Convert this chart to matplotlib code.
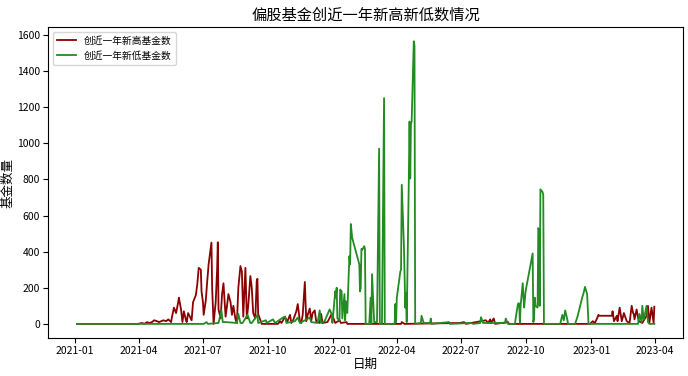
import matplotlib
matplotlib.use("Agg")
import matplotlib.pyplot as plt
import matplotlib.dates as mdates
import pandas as pd

plt.rcParams['font.family'] = ['Noto Sans CJK SC', 'DejaVu Sans']

title = "偏股基金创近一年新高新低数情况"
xlabel = "日期"
ylabel = "基金数量"
label_high = "创近一年新高基金数"
label_low = "创近一年新低基金数"

# (date, count) for funds hitting 1-year highs
high_points = [
    ("2021-01-04", 0), ("2021-03-31", 0), ("2021-04-06", 5), ("2021-04-09", 0),
    ("2021-04-13", 10), ("2021-04-16", 5), ("2021-04-20", 10), ("2021-04-23", 20),
    ("2021-04-27", 15), ("2021-04-30", 10), ("2021-05-06", 20), ("2021-05-10", 15),
    ("2021-05-13", 25), ("2021-05-17", 10), ("2021-05-18", 35), ("2021-05-21", 90),
    ("2021-05-24", 60), ("2021-05-27", 120), ("2021-05-28", 145), ("2021-05-31", 80),
    ("2021-06-02", 10), ("2021-06-04", 70), ("2021-06-07", 20), ("2021-06-08", 10),
    ("2021-06-10", 60), ("2021-06-15", 20), ("2021-06-17", 120), ("2021-06-21", 160),
    ("2021-06-23", 220), ("2021-06-25", 310), ("2021-06-28", 300), ("2021-06-29", 180),
    ("2021-07-01", 120), ("2021-07-02", 50), ("2021-07-05", 130), ("2021-07-07", 235),
    ("2021-07-09", 330), ("2021-07-13", 450), ("2021-07-14", 200), ("2021-07-16", 0),
    ("2021-07-19", 120), ("2021-07-21", 300), ("2021-07-22", 452), ("2021-07-23", 80),
    ("2021-07-26", 30), ("2021-07-27", 100), ("2021-07-28", 165), ("2021-07-30", 225),
    ("2021-08-02", 40), ("2021-08-04", 100), ("2021-08-06", 165), ("2021-08-09", 120),
    ("2021-08-11", 50), ("2021-08-13", 100), ("2021-08-16", 25), ("2021-08-18", 5),
    ("2021-08-20", 200), ("2021-08-23", 320), ("2021-08-25", 290), ("2021-08-27", 40),
    ("2021-08-30", 310), ("2021-09-01", 30), ("2021-09-03", 100), ("2021-09-06", 265),
    ("2021-09-08", 200), ("2021-09-10", 60), ("2021-09-13", 30), ("2021-09-15", 237),
    ("2021-09-16", 250), ("2021-09-17", 55), ("2021-09-22", 0), ("2021-10-15", 0),
    ("2021-10-18", 15), ("2021-10-20", 5), ("2021-10-25", 40), ("2021-10-28", 10),
    ("2021-11-01", 50), ("2021-11-03", 5), ("2021-11-05", 15), ("2021-11-10", 70),
    ("2021-11-12", 110), ("2021-11-15", 15), ("2021-11-17", 5), ("2021-11-19", 50),
    ("2021-11-22", 232), ("2021-11-24", 15), ("2021-11-26", 50), ("2021-11-29", 85),
    ("2021-12-01", 15), ("2021-12-03", 60), ("2021-12-06", 75), ("2021-12-08", 15),
    ("2021-12-13", 5), ("2021-12-15", 55), ("2021-12-17", 5), ("2021-12-24", 10),
    ("2021-12-30", 55), ("2022-01-04", 5), ("2022-01-10", 20), ("2022-01-12", 5),
    ("2022-01-20", 10), ("2022-01-21", 0), ("2022-04-07", 0), ("2022-04-08", 10),
    ("2022-04-12", 0), ("2022-06-29", 5), ("2022-07-05", 10), ("2022-07-08", 0),
    ("2022-08-05", 20), ("2022-08-08", 5), ("2022-08-11", 25), ("2022-08-12", 5),
    ("2022-08-16", 30), ("2022-08-18", 0), ("2022-09-05", 10), ("2022-09-07", 0),
    ("2022-12-30", 0), ("2023-01-03", 15), ("2023-01-06", 5), ("2023-01-09", 30),
    ("2023-01-11", 50), ("2023-01-12", 45), ("2023-01-30", 45), ("2023-01-31", 70),
    ("2023-02-02", 15), ("2023-02-06", 45), ("2023-02-07", 15), ("2023-02-10", 90),
    ("2023-02-13", 15), ("2023-02-16", 60), ("2023-02-20", 15), ("2023-02-24", 5),
    ("2023-02-27", 100), ("2023-03-01", 60), ("2023-03-02", 55), ("2023-03-03", 25),
    ("2023-03-06", 80), ("2023-03-09", 15), ("2023-03-14", 5), ("2023-03-20", 45),
    ("2023-03-22", 100), ("2023-03-24", 5), ("2023-03-27", 90), ("2023-03-30", 5),
    ("2023-03-31", 95),
]

# (date, count) for funds hitting 1-year lows
low_points = [
    ("2021-01-04", 0), ("2021-07-02", 0), ("2021-07-06", 10), ("2021-07-08", 0),
    ("2021-07-23", 5), ("2021-07-27", 75), ("2021-07-29", 10), ("2021-08-02", 10),
    ("2021-08-18", 5), ("2021-08-20", 55), ("2021-08-23", 5), ("2021-08-26", 5),
    ("2021-09-02", 50), ("2021-09-06", 5), ("2021-09-08", 5), ("2021-09-16", 50),
    ("2021-09-17", 5), ("2021-09-28", 20), ("2021-09-29", 5), ("2021-10-08", 25),
    ("2021-10-11", 5), ("2021-10-22", 35), ("2021-10-25", 40), ("2021-10-27", 5),
    ("2021-11-08", 15), ("2021-11-12", 35), ("2021-11-15", 5), ("2021-11-29", 35),
    ("2021-12-01", 10), ("2021-12-10", 5), ("2021-12-13", 75), ("2021-12-15", 5),
    ("2021-12-20", 15), ("2021-12-27", 80), ("2021-12-30", 55), ("2021-12-31", 5),
    ("2022-01-04", 180), ("2022-01-05", 145), ("2022-01-06", 200), ("2022-01-07", 30),
    ("2022-01-10", 20), ("2022-01-11", 190), ("2022-01-12", 185), ("2022-01-13", 180),
    ("2022-01-14", 30), ("2022-01-17", 165), ("2022-01-18", 20), ("2022-01-19", 125),
    ("2022-01-20", 80), ("2022-01-21", 60), ("2022-01-24", 375), ("2022-01-25", 330),
    ("2022-01-26", 553), ("2022-01-28", 475), ("2022-02-07", 330), ("2022-02-08", 180),
    ("2022-02-09", 200), ("2022-02-10", 415), ("2022-02-11", 410), ("2022-02-14", 430),
    ("2022-02-15", 415), ("2022-02-16", 0), ("2022-02-21", 0), ("2022-02-23", 145),
    ("2022-02-24", 0), ("2022-02-25", 275), ("2022-02-28", 10), ("2022-03-04", 10),
    ("2022-03-07", 970), ("2022-03-08", 0), ("2022-03-11", 0), ("2022-03-14", 1250),
    ("2022-03-15", 0), ("2022-03-29", 0), ("2022-03-30", 110), ("2022-03-31", 10),
    ("2022-04-01", 145), ("2022-04-06", 290), ("2022-04-07", 300), ("2022-04-08", 770),
    ("2022-04-11", 440), ("2022-04-12", 275), ("2022-04-13", 90), ("2022-04-14", 170),
    ("2022-04-15", 10), ("2022-04-18", 805), ("2022-04-19", 1120), ("2022-04-20", 805),
    ("2022-04-21", 1105), ("2022-04-22", 1120), ("2022-04-25", 1565), ("2022-04-26", 1540),
    ("2022-04-27", 0), ("2022-05-05", 5), ("2022-05-06", 45), ("2022-05-09", 5),
    ("2022-05-18", 5), ("2022-05-19", 30), ("2022-05-20", 0), ("2022-06-14", 10),
    ("2022-06-15", 0), ("2022-07-15", 5), ("2022-07-18", 0), ("2022-07-28", 5),
    ("2022-07-29", 37), ("2022-08-01", 5), ("2022-08-25", 5), ("2022-09-01", 5),
    ("2022-09-02", 30), ("2022-09-05", 0), ("2022-09-15", 0), ("2022-09-16", 30),
    ("2022-09-19", 105), ("2022-09-20", 115), ("2022-09-21", 110), ("2022-09-22", 5),
    ("2022-09-23", 100), ("2022-09-26", 225), ("2022-09-27", 150), ("2022-09-28", 90),
    ("2022-09-29", 135), ("2022-09-30", 180), ("2022-10-10", 390), ("2022-10-11", 10),
    ("2022-10-12", 30), ("2022-10-13", 145), ("2022-10-14", 100), ("2022-10-17", 90),
    ("2022-10-18", 530), ("2022-10-19", 520), ("2022-10-20", 100), ("2022-10-21", 745),
    ("2022-10-24", 730), ("2022-10-25", 715), ("2022-10-26", 0), ("2022-11-18", 0),
    ("2022-11-21", 50), ("2022-11-23", 20), ("2022-11-25", 75), ("2022-11-28", 25),
    ("2022-11-29", 0), ("2022-12-09", 0), ("2022-12-12", 35), ("2022-12-14", 65),
    ("2022-12-19", 145), ("2022-12-21", 170), ("2022-12-23", 205), ("2022-12-26", 165),
    ("2022-12-28", 0), ("2023-03-08", 0), ("2023-03-10", 55), ("2023-03-13", 10),
    ("2023-03-14", 100), ("2023-03-16", 25), ("2023-03-17", 40), ("2023-03-20", 100),
    ("2023-03-22", 10), ("2023-03-24", 0), ("2023-03-31", 0),
]

high_dates = pd.to_datetime([d for d, _ in high_points])
high_values = [v for _, v in high_points]
low_dates = pd.to_datetime([d for d, _ in low_points])
low_values = [v for _, v in low_points]

fig, ax = plt.subplots(figsize=(6.88, 3.76), dpi=100)
fig.subplots_adjust(left=0.07, right=0.993, top=0.928, bottom=0.101)

ax.plot(high_dates, high_values, color="#8B0000", lw=1.3, label=label_high)
ax.plot(low_dates, low_values, color="#228B22", lw=1.3, label=label_low)

ax.set_title(title, fontsize=11, pad=5)
ax.set_xlabel(xlabel, fontsize=9, labelpad=1)
ax.set_ylabel(ylabel, fontsize=9, labelpad=2)
ax.xaxis.set_major_locator(mdates.MonthLocator(bymonth=[1, 4, 7, 10]))
ax.xaxis.set_major_formatter(mdates.DateFormatter("%Y-%m"))
ax.set_yticks(range(0, 1601, 200))
ax.tick_params(labelsize=7.5, pad=2.5)
ax.legend(loc="upper left", fontsize=7, frameon=True)

fig.savefig("out.png", dpi=100)
